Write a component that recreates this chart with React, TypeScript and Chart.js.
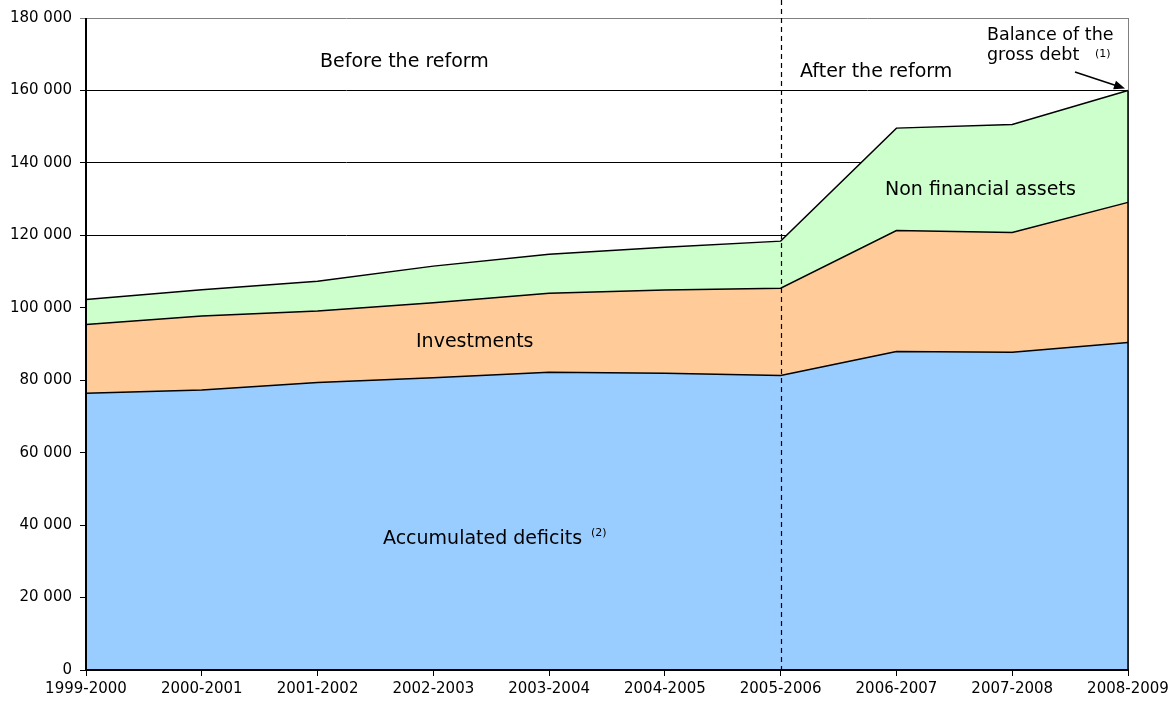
import React, { useEffect, useRef } from "react";
import { Chart, registerables } from "chart.js";

Chart.register(...registerables);

const categories = [
  "1999-2000", "2000-2001", "2001-2002", "2002-2003", "2003-2004",
  "2004-2005", "2005-2006", "2006-2007", "2007-2008", "2008-2009",
];
const deficits = [76400, 77300, 79400, 80700, 82200, 81900, 81300, 87900, 87700, 90400];
const investments = [19000, 20400, 19700, 20700, 21800, 23000, 24100, 33400, 33100, 38700];
const nonFinancial = [6900, 7300, 8200, 10100, 10800, 11800, 13000, 28300, 29800, 30900];
const yMax = 180000;
const yStep = 20000;
const reformIndex = 6;

const FONT = "'DejaVu Sans', 'Liberation Sans', Arial, sans-serif";

const fmt = (v: number) => String(v).replace(/\B(?=(\d{3})+(?!\d))/g, " ");

const overlay = {
  id: "overlay",
  beforeDatasetsDraw(chart: any) {
    const { ctx, chartArea } = chart;
    ctx.save();
    ctx.strokeStyle = "#808080";
    ctx.lineWidth = 1;
    ctx.beginPath();
    ctx.moveTo(Math.round(chartArea.right) + 0.5, chartArea.top);
    ctx.lineTo(Math.round(chartArea.right) + 0.5, chartArea.bottom);
    ctx.stroke();
    ctx.restore();
  },
  afterDatasetsDraw(chart: any) {
    const { ctx, chartArea, scales } = chart;
    const x = scales.x;
    const y = scales.y;
    ctx.save();
    // right edge of the stacked area
    const lastTop = chart.getDatasetMeta(2).data[categories.length - 1];
    ctx.strokeStyle = "#000";
    ctx.lineWidth = 1.5;
    ctx.beginPath();
    ctx.moveTo(lastTop.x, y.getPixelForValue(0));
    ctx.lineTo(lastTop.x, lastTop.y);
    ctx.stroke();
    // axes
    ctx.lineWidth = 2;
    ctx.beginPath();
    ctx.moveTo(chartArea.left, chartArea.top);
    ctx.lineTo(chartArea.left, chartArea.bottom + 1);
    ctx.moveTo(chartArea.left - 1, chartArea.bottom);
    ctx.lineTo(chartArea.right + 1, chartArea.bottom);
    ctx.stroke();
    // reform dashed line
    const rx = Math.round(x.getPixelForValue(reformIndex)) + 0.5;
    ctx.lineWidth = 1.2;
    ctx.setLineDash([5, 4]);
    ctx.beginPath();
    ctx.moveTo(rx, 0);
    ctx.lineTo(rx, chartArea.bottom);
    ctx.stroke();
    ctx.restore();
  },
  afterDraw(chart: any) {
    const { ctx } = chart;
    ctx.save();
    ctx.fillStyle = "#000";
    ctx.textBaseline = "alphabetic";
    ctx.textAlign = "left";
    ctx.font = `19px ${FONT}`;
    ctx.fillText("Before the reform", 320, 67);
    ctx.fillText("After the reform", 800, 77);
    ctx.fillText("Non financial assets", 885, 195);
    ctx.fillText("Investments", 416, 347);
    ctx.fillText("Accumulated deficits", 383, 544);
    ctx.font = `17.5px ${FONT}`;
    ctx.fillText("Balance of the", 987, 40);
    ctx.fillText("gross debt", 987, 60);
    ctx.font = `11px ${FONT}`;
    ctx.fillText("(1)", 1095, 57);
    ctx.fillText("(2)", 591, 536);
    // arrow to the end of the gross debt
    const tip = chart.getDatasetMeta(2).data[categories.length - 1];
    const tx = tip.x - 3;
    const ty = tip.y - 2;
    const sx = 1075;
    const sy = 72;
    const ang = Math.atan2(ty - sy, tx - sx);
    ctx.strokeStyle = "#000";
    ctx.lineWidth = 1.5;
    ctx.beginPath();
    ctx.moveTo(sx, sy);
    ctx.lineTo(tx - 8 * Math.cos(ang), ty - 8 * Math.sin(ang));
    ctx.stroke();
    ctx.beginPath();
    ctx.moveTo(tx, ty);
    ctx.lineTo(tx - 11 * Math.cos(ang) + 4.5 * Math.sin(ang), ty - 11 * Math.sin(ang) - 4.5 * Math.cos(ang));
    ctx.lineTo(tx - 11 * Math.cos(ang) - 4.5 * Math.sin(ang), ty - 11 * Math.sin(ang) + 4.5 * Math.cos(ang));
    ctx.closePath();
    ctx.fill();
    ctx.restore();
  },
};

export default function App() {
  const ref = useRef<HTMLCanvasElement | null>(null);
  useEffect(() => {
    if (!ref.current) return;
    Chart.defaults.font.family = FONT;
    Chart.defaults.font.size = 15;
    Chart.defaults.color = "#000";
    const chart = new Chart(ref.current, {
      type: "line",
      data: {
        labels: categories,
        datasets: [
          {
            label: "Accumulated deficits",
            data: deficits,
            backgroundColor: "#99CCFF",
            borderColor: "#000",
            borderWidth: 1.5,
            fill: "origin",
            pointRadius: 0,
            tension: 0,
          },
          {
            label: "Investments",
            data: investments,
            backgroundColor: "#FFCC99",
            borderColor: "#000",
            borderWidth: 1.5,
            fill: "-1",
            pointRadius: 0,
            tension: 0,
          },
          {
            label: "Non financial assets",
            data: nonFinancial,
            backgroundColor: "#CCFFCC",
            borderColor: "#000",
            borderWidth: 1.5,
            fill: "-1",
            pointRadius: 0,
            tension: 0,
          },
        ],
      },
      options: {
        responsive: false,
        devicePixelRatio: 1,
        animation: false,
        events: [],
        layout: { padding: { left: 0, right: 46, top: 18, bottom: 0 } },
        plugins: {
          legend: { display: false },
          tooltip: { enabled: false },
          title: { display: false },
        },
        scales: {
          x: {
            type: "category",
            offset: false,
            border: { display: false },
            grid: {
              drawOnChartArea: false,
              drawTicks: true,
              tickLength: 6,
              color: "#000",
              lineWidth: 1,
            },
            ticks: {
              padding: 4,
              maxRotation: 0,
              autoSkip: false,
              font: { size: 15, family: FONT },
              color: "#000",
            },
            afterFit: (s: any) => {
              s.height = 34;
            },
          },
          y: {
            stacked: true,
            min: 0,
            max: yMax,
            border: { display: false },
            grid: {
              color: (c: any) => (c.tick && c.tick.value === yMax ? "#808080" : "#000"),
              lineWidth: 1,
              drawTicks: true,
              tickLength: 6,
            },
            ticks: {
              stepSize: yStep,
              padding: 8,
              font: { size: 15, family: FONT },
              color: "#000",
              callback: (v: any) => fmt(Number(v)),
            },
            afterFit: (s: any) => {
              s.width = 86;
            },
          },
        },
      },
      plugins: [overlay],
    });
    return () => chart.destroy();
  }, []);
  return (
    <div style={{ position: "absolute", left: 0, top: 0, width: 1174, height: 704, background: "#fff" }}>
      <canvas ref={ref} width={1174} height={704} style={{ display: "block", width: "1174px", height: "704px" }} />
    </div>
  );
}
